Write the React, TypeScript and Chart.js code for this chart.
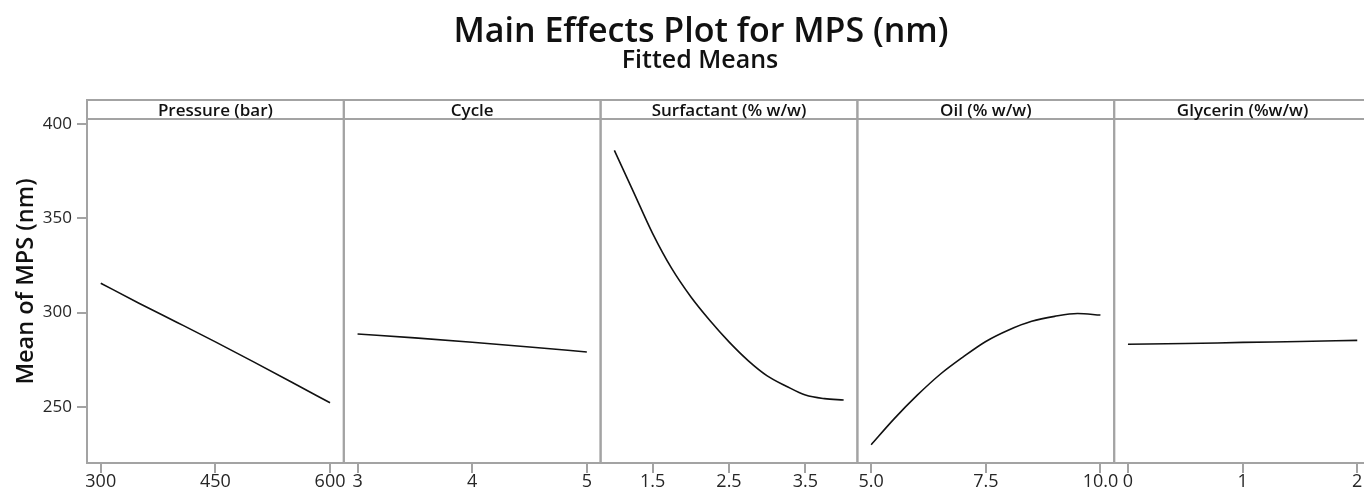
import { useEffect, useRef } from "react";
import { Chart, registerables } from "chart.js";

Chart.register(...registerables);

// ---------- text ----------
const TITLE = "Main Effects Plot for MPS (nm)";
const SUBTITLE = "Fitted Means";
const Y_TITLE = "Mean of MPS (nm)";
const FACTOR_TITLES = ["Pressure (bar)", "Cycle", "Surfactant (% w/w)", "Oil (% w/w)", "Glycerin (%w/w)"];

// ---------- data (fitted means) ----------
const PRESSURE_X = [300, 350, 400, 450, 500, 550, 600];
const PRESSURE_Y = [315.6, 305.0, 294.8, 284.5, 273.9, 263.1, 252.2];

const CYCLE_X = [3, 3.5, 4, 4.5, 5];
const CYCLE_Y = [288.7, 286.6, 284.3, 281.8, 279.1];

const SURF_X = [1.0, 1.25, 1.5, 1.75, 2.0, 2.25, 2.5, 2.75, 3.0, 3.25, 3.5, 3.75, 4.0];
const SURF_Y = [386.0, 364.0, 342.0, 323.4, 308.4, 295.8, 284.5, 274.6, 266.5, 261.0, 256.3, 254.4, 253.7];

const OIL_X = [5.0, 5.5, 6.0, 6.5, 7.0, 7.5, 8.0, 8.5, 9.0, 9.5, 10.0];
const OIL_Y = [230.0, 243.7, 256.1, 267.2, 276.4, 284.7, 290.8, 295.4, 298.0, 299.5, 298.7];

const GLY_X = [0, 0.5, 1, 1.5, 2];
const GLY_Y = [283.2, 283.6, 284.2, 284.7, 285.3];

// ---------- ticks ----------
const Y_TICKS = [250, 300, 350, 400];
const Y_MIN = 220.3;
const Y_MAX = 402.6;

const PRESSURE_TICKS = [300, 450, 600];
const PRESSURE_TICK_LABELS = ["300", "450", "600"];
const CYCLE_TICKS = [3, 4, 5];
const CYCLE_TICK_LABELS = ["3", "4", "5"];
const SURF_TICKS = [1.5, 2.5, 3.5];
const SURF_TICK_LABELS = ["1.5", "2.5", "3.5"];
const OIL_TICKS = [5, 7.5, 10];
const OIL_TICK_LABELS = ["5.0", "7.5", "10.0"];
const GLY_TICKS = [0, 1, 2];
const GLY_TICK_LABELS = ["0", "1", "2"];

// ---------- styling ----------
const FONT = "'Open Sans', 'Noto Sans', sans-serif";
const FRAME = "#a3a3a3";
const TEXT = "#111111";
const TICK_TEXT = "#262626";
const LINE = "#111111";
const STRIP_TOP = 100;
const PAD_FRAC = 0.06;

const PANELS = [
  { id: "x0", title: FACTOR_TITLES[0], xs: PRESSURE_X, ys: PRESSURE_Y, ticks: PRESSURE_TICKS, labels: PRESSURE_TICK_LABELS },
  { id: "x1", title: FACTOR_TITLES[1], xs: CYCLE_X, ys: CYCLE_Y, ticks: CYCLE_TICKS, labels: CYCLE_TICK_LABELS },
  { id: "x2", title: FACTOR_TITLES[2], xs: SURF_X, ys: SURF_Y, ticks: SURF_TICKS, labels: SURF_TICK_LABELS },
  { id: "x3", title: FACTOR_TITLES[3], xs: OIL_X, ys: OIL_Y, ticks: OIL_TICKS, labels: OIL_TICK_LABELS },
  { id: "x4", title: FACTOR_TITLES[4], xs: GLY_X, ys: GLY_Y, ticks: GLY_TICKS, labels: GLY_TICK_LABELS },
];

const framePlugin = {
  id: "mainEffectsFrame",
  afterDraw(chart: any) {
    const ctx = chart.ctx;
    const area = chart.chartArea;
    ctx.save();

    // titles
    ctx.fillStyle = TEXT;
    ctx.textAlign = "center";
    ctx.textBaseline = "alphabetic";
    ctx.font = `600 34px ${FONT}`;
    ctx.fillText(TITLE, 701, 42);
    ctx.font = `600 25px ${FONT}`;
    ctx.fillText(SUBTITLE, 700, 68);

    // y axis title
    ctx.save();
    ctx.translate(33, 281.5);
    ctx.rotate(-Math.PI / 2);
    ctx.font = `600 23.5px ${FONT}`;
    ctx.fillText(Y_TITLE, 0, 0);
    ctx.restore();

    // panel frames + header strips
    PANELS.forEach((p) => {
      const s = chart.scales[p.id];
      ctx.strokeStyle = FRAME;
      ctx.lineWidth = 2;
      ctx.strokeRect(s.left, STRIP_TOP, s.right - s.left, area.bottom - STRIP_TOP);
      ctx.beginPath();
      ctx.moveTo(s.left, area.top);
      ctx.lineTo(s.right, area.top);
      ctx.stroke();
      ctx.fillStyle = TEXT;
      ctx.font = `600 17px ${FONT}`;
      ctx.textAlign = "center";
      ctx.textBaseline = "alphabetic";
      ctx.fillText(p.title, (s.left + s.right) / 2, area.top - 3);
    });

    ctx.restore();
  },
};

export default function App() {
  const canvasRef = useRef<HTMLCanvasElement | null>(null);

  useEffect(() => {
    const canvas = canvasRef.current;
    if (!canvas) return;

    const scales: any = {
      y: {
        type: "linear",
        position: "left",
        axis: "y",
        min: Y_MIN,
        max: Y_MAX,
        bounds: "data",
        afterBuildTicks: (s: any) => {
          s.ticks = Y_TICKS.map((v) => ({ value: v }));
        },
        afterFit: (s: any) => {
          s.width = 87;
          s.paddingTop = 0;
          s.paddingBottom = 0;
        },
        ticks: {
          color: TICK_TEXT,
          font: { family: FONT, size: 17 },
          padding: 5,
          autoSkip: false,
        },
        grid: { drawOnChartArea: false, drawTicks: true, tickLength: 10, color: FRAME, lineWidth: 2 },
        border: { display: false },
      },
    };

    PANELS.forEach((p) => {
      const lo = Math.min(...p.xs);
      const hi = Math.max(...p.xs);
      const pad = (hi - lo) * PAD_FRAC;
      scales[p.id] = {
        type: "linear",
        position: "bottom",
        axis: "x",
        stack: "panels",
        stackWeight: 1,
        min: lo - pad,
        max: hi + pad,
        bounds: "data",
        afterBuildTicks: (s: any) => {
          s.ticks = p.ticks.map((v) => ({ value: v }));
        },
        afterFit: (s: any) => {
          s.height = 25;
          s.paddingLeft = 0;
          s.paddingRight = 0;
        },
        ticks: {
          color: TICK_TEXT,
          font: { family: FONT, size: 18 },
          padding: -1.5,
          autoSkip: false,
          maxRotation: 0,
          minRotation: 0,
          callback: (_v: any, i: number) => p.labels[i],
        },
        grid: { drawOnChartArea: false, drawTicks: true, tickLength: 10, color: FRAME, lineWidth: 2 },
        border: { display: false },
      };
    });

    const datasets = PANELS.map((p) => ({
      label: p.title,
      data: p.xs.map((x, i) => ({ x, y: p.ys[i] })),
      xAxisID: p.id,
      yAxisID: "y",
      borderColor: LINE,
      borderWidth: 1.6,
      pointRadius: 0,
      cubicInterpolationMode: "monotone" as const,
      fill: false,
    }));

    const chart = new Chart(canvas, {
      type: "line",
      data: { datasets },
      options: {
        responsive: false,
        animation: false,
        maintainAspectRatio: false,
        layout: { padding: { top: 119, left: 0, right: 0, bottom: 0 } },
        plugins: {
          legend: { display: false },
          title: { display: false },
          tooltip: { enabled: false },
        },
        scales,
      },
      plugins: [framePlugin],
    });

    return () => chart.destroy();
  }, []);

  return (
    <div
      style={{
        position: "absolute",
        left: 0,
        top: 0,
        width: 1364,
        height: 488,
        overflow: "hidden",
        background: "#ffffff",
      }}
    >
      <canvas ref={canvasRef} width={1371} height={488} style={{ display: "block" }} />
    </div>
  );
}
